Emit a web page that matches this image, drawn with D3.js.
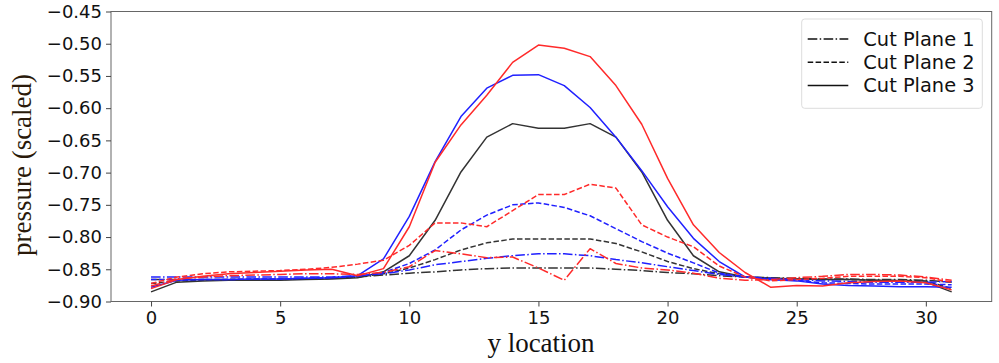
<!DOCTYPE html>
<html><head><meta charset="utf-8">
<script src="https://cdn.jsdelivr.net/npm/d3@7"></script>
<style>body{margin:0;background:#fff}svg{display:block}</style>
</head><body><svg id="c" width="999" height="363"></svg>
<script>
const xValues = d3.range(0, 32);
const yTicks = [-0.90,-0.85,-0.80,-0.75,-0.70,-0.65,-0.60,-0.55,-0.50,-0.45];
const xTicks = [0,5,10,15,20,25,30];
const legendLabels = ["Cut Plane 1","Cut Plane 2","Cut Plane 3"];

const black1 = [-0.866,-0.866,-0.866,-0.866,-0.866,-0.865,-0.865,-0.864,-0.862,-0.859,-0.856,-0.854,-0.851,-0.849,-0.848,-0.848,-0.848,-0.848,-0.850,-0.852,-0.855,-0.857,-0.860,-0.862,-0.863,-0.864,-0.865,-0.865,-0.866,-0.866,-0.867,-0.870];
const black2 = [-0.872,-0.868,-0.867,-0.866,-0.866,-0.866,-0.865,-0.864,-0.862,-0.857,-0.848,-0.835,-0.820,-0.809,-0.803,-0.803,-0.803,-0.803,-0.810,-0.823,-0.838,-0.849,-0.857,-0.862,-0.864,-0.865,-0.866,-0.866,-0.867,-0.867,-0.868,-0.880];
const black3 = [-0.885,-0.870,-0.868,-0.867,-0.867,-0.867,-0.866,-0.865,-0.863,-0.854,-0.829,-0.774,-0.699,-0.645,-0.624,-0.631,-0.631,-0.624,-0.645,-0.699,-0.774,-0.829,-0.854,-0.862,-0.864,-0.865,-0.866,-0.866,-0.867,-0.868,-0.870,-0.885];
const blue1 = [-0.862,-0.862,-0.862,-0.862,-0.862,-0.862,-0.862,-0.862,-0.860,-0.857,-0.851,-0.843,-0.838,-0.833,-0.829,-0.826,-0.826,-0.829,-0.835,-0.840,-0.846,-0.852,-0.858,-0.862,-0.864,-0.866,-0.868,-0.869,-0.870,-0.870,-0.870,-0.869];
const blue2 = [-0.866,-0.866,-0.866,-0.866,-0.865,-0.865,-0.864,-0.863,-0.861,-0.855,-0.841,-0.820,-0.789,-0.766,-0.750,-0.747,-0.754,-0.767,-0.787,-0.807,-0.825,-0.840,-0.856,-0.862,-0.866,-0.867,-0.871,-0.872,-0.873,-0.873,-0.873,-0.874];
const blue3 = [-0.878,-0.867,-0.866,-0.866,-0.865,-0.865,-0.864,-0.863,-0.860,-0.834,-0.768,-0.683,-0.613,-0.569,-0.549,-0.548,-0.565,-0.599,-0.645,-0.697,-0.753,-0.802,-0.838,-0.862,-0.866,-0.868,-0.873,-0.875,-0.876,-0.877,-0.877,-0.878];
const red1 = [-0.876,-0.865,-0.862,-0.860,-0.859,-0.858,-0.857,-0.857,-0.858,-0.855,-0.846,-0.821,-0.826,-0.832,-0.831,-0.848,-0.867,-0.818,-0.841,-0.848,-0.851,-0.856,-0.864,-0.867,-0.866,-0.863,-0.861,-0.858,-0.858,-0.859,-0.862,-0.867];
const red2 = [-0.872,-0.862,-0.857,-0.854,-0.853,-0.852,-0.850,-0.847,-0.842,-0.836,-0.813,-0.778,-0.778,-0.784,-0.759,-0.734,-0.734,-0.718,-0.724,-0.781,-0.800,-0.815,-0.845,-0.862,-0.868,-0.866,-0.864,-0.861,-0.861,-0.861,-0.863,-0.870];
const red3 = [-0.880,-0.866,-0.861,-0.857,-0.855,-0.853,-0.851,-0.850,-0.860,-0.849,-0.784,-0.684,-0.626,-0.580,-0.529,-0.502,-0.507,-0.520,-0.565,-0.625,-0.709,-0.781,-0.824,-0.855,-0.878,-0.875,-0.876,-0.871,-0.869,-0.868,-0.871,-0.882];

const colors = {black:"#333333", blue:"#2020ff", red:"#ff2a2a"};
const dashes = {1:"9.6,2.4,1.5,2.4", 2:"5.5,2.4", 3:null};
const series = [
  {v:black1,c:"black",p:1},{v:black2,c:"black",p:2},{v:black3,c:"black",p:3},
  {v:blue1,c:"blue",p:1},{v:blue2,c:"blue",p:2},{v:blue3,c:"blue",p:3},
  {v:red1,c:"red",p:1},{v:red2,c:"red",p:2},{v:red3,c:"red",p:3}
];

const L=111, R=991.7, T=11.5, B=301.5;
const x = d3.scaleLinear().domain([-1.55, 32.55]).range([L, R]);
const y = d3.scaleLinear().domain([-0.90, -0.45]).range([B, T]);
const svg = d3.select("#c");
const tickFont = "DejaVu Sans";

const line = d3.line().x((d,i)=>x(xValues[i])).y(d=>y(d));
svg.append("g").selectAll("path").data(series).join("path")
  .attr("d", d=>line(d.v)).attr("fill","none")
  .attr("stroke", d=>colors[d.c]).attr("stroke-width",1.5)
  .attr("stroke-dasharray", d=>dashes[d.p]).attr("stroke-linejoin","round");

// frame
svg.append("rect").attr("x",L).attr("y",T).attr("width",R-L).attr("height",B-T)
  .attr("fill","none").attr("stroke","#666").attr("stroke-width",1);

const xa = svg.append("g").attr("transform",`translate(0,${B})`)
  .call(d3.axisBottom(x).tickValues(xTicks).tickFormat(d3.format("d")).tickSize(5).tickPadding(5));
const ya = svg.append("g").attr("transform",`translate(${L},0)`)
  .call(d3.axisLeft(y).tickValues(yTicks).tickFormat(d=>d3.format(".2f")(d).replace("-","\u2212")).tickSize(5).tickPadding(4));
[xa,ya].forEach(a=>{
  a.select(".domain").remove();
  a.selectAll(".tick line").attr("stroke","#444");
  a.selectAll("text").attr("font-family",tickFont).attr("font-size",18).attr("fill","#111");
});

svg.append("text").attr("x",541).attr("y",352).attr("text-anchor","middle")
  .attr("font-family","Liberation Serif").attr("font-size",27).attr("fill","#111").text("y location");
svg.append("text").attr("transform","translate(31,165) rotate(-90)").attr("text-anchor","middle")
  .attr("font-family","Liberation Serif").attr("font-size",27).attr("fill","#2a1a0a").text("pressure (scaled)");

// legend
const lg = svg.append("g");
lg.append("rect").attr("x",801.7).attr("y",19).attr("width",180.6).attr("height",89.3).attr("rx",3)
  .attr("fill","#fff").attr("stroke","#ddd").attr("stroke-width",1);
legendLabels.forEach((t,i)=>{
  const yy = 39 + i*23.3;
  lg.append("line").attr("x1",807.7).attr("x2",848.3).attr("y1",yy).attr("y2",yy)
    .attr("stroke","#111").attr("stroke-width",1.5).attr("stroke-dasharray",dashes[i+1]);
  lg.append("text").attr("x",863.3).attr("y",yy).attr("dy","0.35em")
    .attr("font-family",tickFont).attr("font-size",19.4).attr("fill","#111").text(t);
});
</script></body></html>
